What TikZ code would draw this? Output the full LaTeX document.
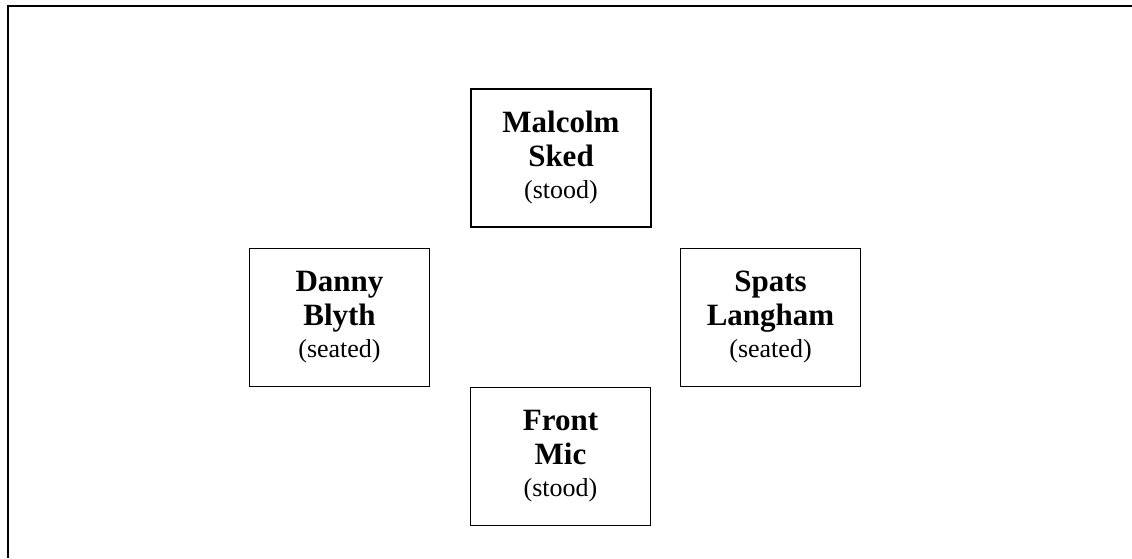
\documentclass[tikz,border=0pt]{standalone}
\usepackage{fontspec}
\setmainfont{Liberation Serif}
\begin{document}
\begin{tikzpicture}[x=1pt,y=-1pt,
  box/.style={draw, line width=1.6pt, minimum width=180pt, minimum height=138pt, inner sep=0pt, align=center},
  nm/.style={font=\bfseries\fontsize{31}{34}\selectfont, inner sep=0pt},
  role/.style={font=\fontsize{26}{29}\selectfont, inner sep=0pt},
  frame/.style={line width=2.6pt}]
\useasboundingbox (0,0) rectangle (1132,558);
\coordinate (ftr) at (1132,6);
\coordinate (ftl) at (8,6);
\coordinate (fbl) at (8,558);
\draw[frame] (ftr) -- (ftl) -- (fbl);
\node[box] (malcolm) at (561,158) {};
\node[box] (danny) at (339.5,317.5) {};
\node[box] (spats) at (770.5,317.5) {};
\node[box] (front) at (560.5,456.5) {};
\foreach \n/\a/\b/\c in {malcolm/Malcolm/Sked/stood, danny/Danny/Blyth/seated, spats/Spats/Langham/seated, front/Front/Mic/stood}{
  \node[nm, anchor=base] (\n-1) at ([yshift=26pt]\n.center) {\a};
  \node[nm, anchor=base] (\n-2) at ([yshift=-8pt]\n.center) {\b};
  \node[role, anchor=base] (\n-3) at ([yshift=-40pt]\n.center) {(\c)};
}
\end{tikzpicture}
\end{document}
